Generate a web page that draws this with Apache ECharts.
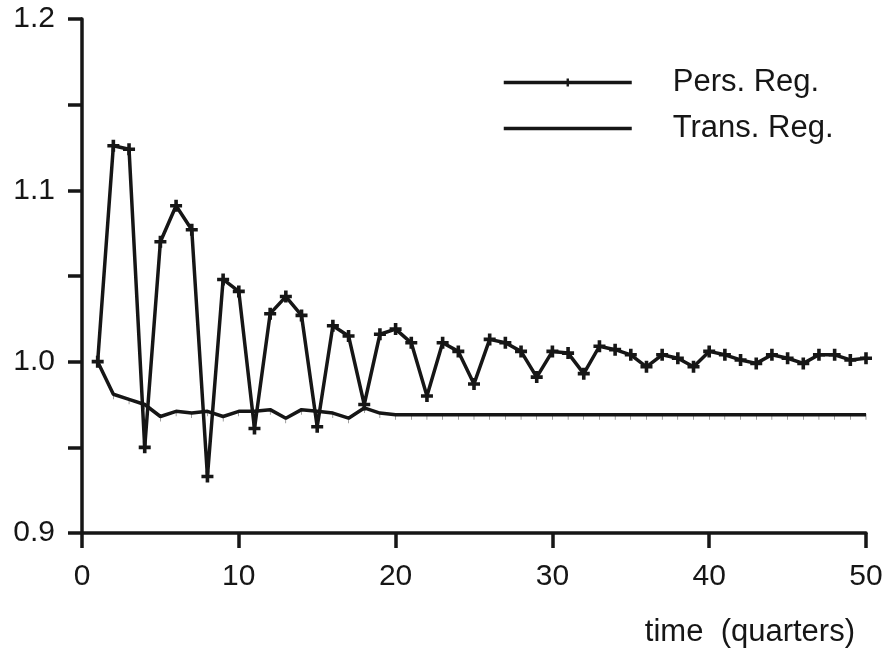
<!DOCTYPE html>
<html>
<head>
<meta charset="utf-8">
<script src="https://cdn.jsdelivr.net/npm/echarts@6/dist/echarts.min.js"></script>
<style>
html,body{margin:0;padding:0;background:#fff;}
#chart{width:888px;height:654px;}
</style>
</head>
<body>
<div id="chart"></div>
<script>
// time (quarters)
var quarters = [1,2,3,4,5,6,7,8,9,10,11,12,13,14,15,16,17,18,19,20,21,22,23,24,25,26,27,28,29,30,31,32,33,34,35,36,37,38,39,40,41,42,43,44,45,46,47,48,49,50];
// Pers. Reg.
var persReg = [1.000,1.126,1.124,0.950,1.070,1.091,1.077,0.933,1.048,1.041,
               0.961,1.028,1.038,1.027,0.962,1.021,1.015,0.975,1.016,1.019,
               1.011,0.980,1.011,1.006,0.987,1.013,1.011,1.006,0.991,1.006,
               1.005,0.993,1.009,1.007,1.004,0.997,1.004,1.002,0.997,1.006,
               1.004,1.001,0.999,1.004,1.002,0.999,1.004,1.004,1.001,1.002];
// Trans. Reg.
var transReg = [1.000,0.981,0.978,0.975,0.968,0.971,0.970,0.971,0.968,0.971,
                0.971,0.972,0.967,0.972,0.971,0.970,0.967,0.973,0.970,0.969,
                0.969,0.969,0.969,0.969,0.969,0.969,0.969,0.969,0.969,0.969,
                0.969,0.969,0.969,0.969,0.969,0.969,0.969,0.969,0.969,0.969,
                0.969,0.969,0.969,0.969,0.969,0.969,0.969,0.969,0.969,0.969];
var seriesNames = ['Pers. Reg.', 'Trans. Reg.'];
var xTicks = [0, 10, 20, 30, 40, 50];
var yTicks = [0.9, 1.0, 1.1, 1.2];

function pairs(vals){ return quarters.map(function(q,i){ return [q, vals[i]]; }); }

var ink = '#161616';
var font = 'Liberation Sans, Arial, Helvetica, sans-serif';
var plus = 'path://M-1.2,-4H1.2V-1.2H4V1.2H1.2V4H-1.2V1.2H-4V-1.2H-1.2Z';
var tick = 'path://M0,0H1V5H0Z';

var chart = echarts.init(document.getElementById('chart'));
chart.setOption({
  backgroundColor: '#fff',
  animation: false,
  grid: {left: 82, right: 22, top: 19, bottom: 121},
  legend: {
    orient: 'vertical',
    left: 502, top: 67, padding: 0,
    itemWidth: 128, itemHeight: 10, itemGap: 15,
    lineStyle: {width: 3.5, color: ink},
    data: [
      {name: seriesNames[0]},
      {name: seriesNames[1], itemStyle: {opacity: 0}}
    ],
    textStyle: {color: ink, fontSize: 31, fontFamily: font, padding: [0,0,0,36]}
  },
  xAxis: {
    type: 'value', min: xTicks[0], max: xTicks[xTicks.length-1], interval: 10,
    name: 'time  (quarters)',
    nameLocation: 'end', nameGap: -11,
    nameTextStyle: {color: ink, fontSize: 31, fontFamily: font, align: 'right', verticalAlign: 'top', padding: [84,0,0,0]},
    axisLine: {lineStyle: {color: ink, width: 3.5}},
    axisTick: {length: 15, lineStyle: {color: ink, width: 3.5}},
    axisLabel: {color: ink, fontSize: 30, fontFamily: font, margin: 29},
    splitLine: {show: false}
  },
  yAxis: {
    type: 'value', min: yTicks[0], max: yTicks[yTicks.length-1], interval: 0.05,
    axisLine: {show: true, lineStyle: {color: ink, width: 3.5}},
    axisTick: {show: true, length: 14, lineStyle: {color: ink, width: 3.5}},
    axisLabel: {
      color: ink, fontSize: 30, fontFamily: font, margin: 27,
      formatter: function(v){
        var r = Math.round(v*10)/10;
        return Math.abs(v - r) < 1e-6 ? r.toFixed(1) : '';
      }
    },
    splitLine: {show: false}
  },
  series: [
    {
      name: seriesNames[0], type: 'line', data: pairs(persReg),
      symbol: plus, symbolSize: 12, showAllSymbol: true,
      lineStyle: {color: ink, width: 3.5},
      itemStyle: {color: ink}
    },
    {
      name: seriesNames[1], type: 'line', data: pairs(transReg),
      symbol: tick, symbolSize: [2, 6], symbolOffset: [0, 2], symbolKeepAspect: true, showAllSymbol: true,
      lineStyle: {color: ink, width: 3.5},
      itemStyle: {color: ink}
    }
  ]
});
</script>
</body>
</html>
